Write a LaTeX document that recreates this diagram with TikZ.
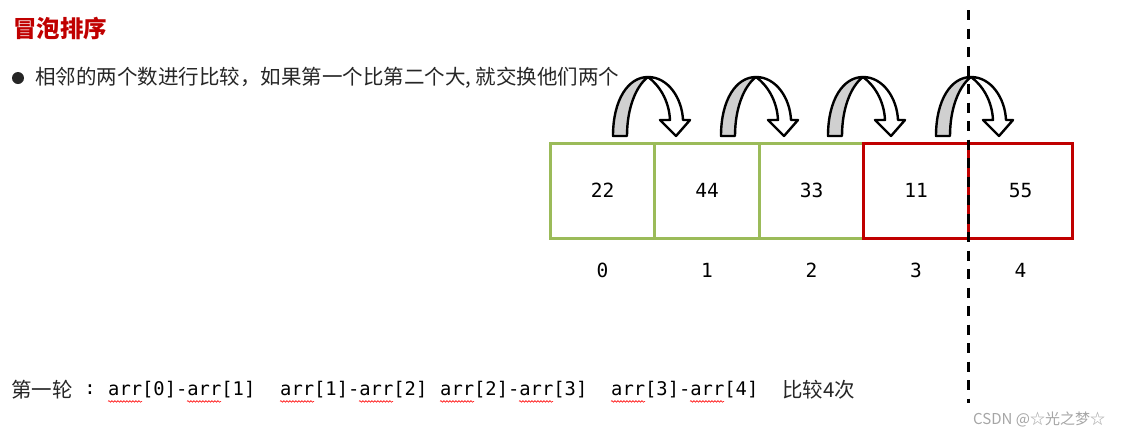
\documentclass[tikz,border=0pt]{standalone}
\usepackage{fontspec}
\usetikzlibrary{positioning,decorations.pathmorphing}
\newfontfamily\cjk{Noto Sans CJK SC}
\newfontfamily\mono{DejaVu Sans Mono}
\definecolor{Title}{HTML}{C00000}
\definecolor{Lime}{HTML}{9BBB59}
\definecolor{Swap}{HTML}{C00000}
\definecolor{Mark}{HTML}{A6A6A6}
\definecolor{Back}{HTML}{D0D0D0}
\definecolor{Ink}{HTML}{262626}

\begin{document}
\begin{tikzpicture}[x=1pt,y=-1pt,
    cell/.style={
      draw=Lime, line width=3pt, minimum width=104.5pt, minimum height=95pt,
      inner sep=0pt, font=\mono\fontsize{19.5}{22}\selectfont
    },
    idx/.style={inner sep=0pt, font=\mono\fontsize{19.5}{22}\selectfont},
    pair/.style={anchor=west, inner sep=0pt, text=black, font=\mono\fontsize{18.8}{22}\selectfont},
    zh/.style={anchor=west, inner sep=0pt, text=Ink, font=\cjk\fontsize{20.5}{24}\selectfont},
    swapbend/.style={line width=2.4pt, line join=round, draw=black},
    squig/.style={draw=red, line width=0.6pt, decorate,
      decoration={snake, amplitude=0.8pt, segment length=3pt}},
    cut/.style={line width=3pt, draw=black, dash pattern=on 10pt off 8.5pt}
  ]
  \fill[white] (0,0) rectangle (1135,437);
  \useasboundingbox (0,0) rectangle (1135,437);

  \node[anchor=west, inner sep=0pt, text=Title, font=\cjk\bfseries\fontsize{23.5}{26}\selectfont] (title) at (13,29) {冒泡排序};
  \node[circle, fill=Ink, minimum size=12pt, inner sep=0pt] (dot) at (18,78) {};
  \node[zh] (rule) at (35,78) {相邻的两个数进行比较，如果第一个比第二个大, 就交换他们两个};

  \foreach \v/\c [count=\i from 0] in {22/Lime,44/Lime,33/Lime,11/Swap,55/Swap}{
    \node[cell, draw=\c] (c\i) at ({602.5+104.5*\i},190.5) {\v};
    \node[idx] (i\i) at ({602.5+104.5*\i},270) {\i};
  }

  \foreach \s in {0,108,215,323}{
    \begin{scope}[shift={(613+\s,136)}]
      \filldraw[swapbend, fill=Back] (0,0) .. controls (0,-36) and (15,-59) .. (35,-59)
        .. controls (23,-50) and (14,-28) .. (14,0) -- cycle;
      \filldraw[swapbend, fill=white] (35,-59) .. controls (55,-59) and (69,-38) .. (70,-16)
        -- (77,-16) -- (63,0) -- (47,-16) -- (57,-16)
        .. controls (56,-36) and (46,-51) .. (35,-59) -- cycle;
    \end{scope}
  }

  \node[zh] (round) at (11,390) {第一轮};
  \node[idx, font=\mono\fontsize{18.8}{22}\selectfont] (colon) at (90,390) {:};
  \node[pair] (p0) at (108,390) {arr[0]-arr[1]};
  \node[pair] (p1) at (280,390) {arr[1]-arr[2]};
  \node[pair] (p2) at (440,390) {arr[2]-arr[3]};
  \node[pair] (p3) at (611,390) {arr[3]-arr[4]};
  \node[zh] (count) at (782,390) {比较4次};
  \foreach \p in {p0,p1,p2,p3}{
    \draw[squig] ([yshift=-5.5pt]\p.base west) -- ++(34,0);
    \draw[squig] ([xshift=79pt,yshift=-5.5pt]\p.base west) -- ++(34,0);
  }

  \coordinate (cuttop) at (968,10);
  \coordinate (cutend) at (968,403);
  \draw[cut] (cuttop) -- (cutend);

  \node[anchor=west, inner sep=0pt, text=Mark, font=\cjk\fontsize{15}{18}\selectfont] (mark) at (973,419) {CSDN @☆光之梦☆};
\end{tikzpicture}
\end{document}
